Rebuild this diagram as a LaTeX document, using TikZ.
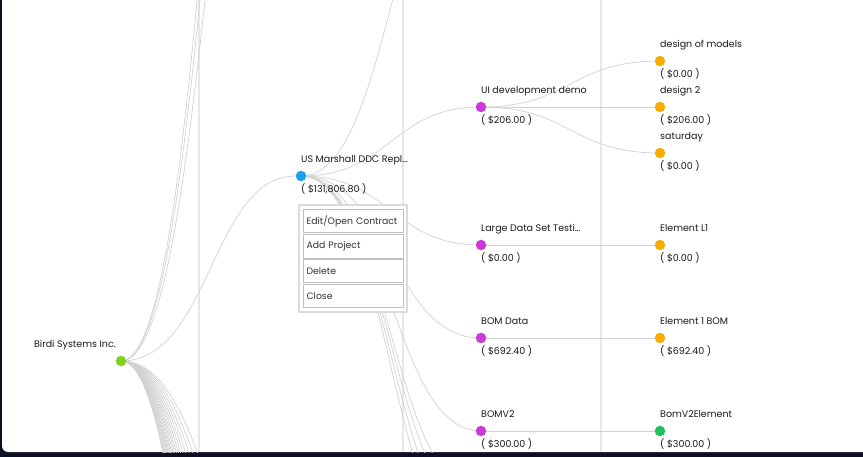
\documentclass[tikz,border=0pt]{standalone}
\usepackage{fontspec}
\setmainfont{Poppins}
\usepackage{tikz}
\usetikzlibrary{backgrounds}

\definecolor{framec}{HTML}{0D1024}
\definecolor{gridc}{HTML}{E8E8E8}
\definecolor{linkc}{HTML}{D2D2D2}
\definecolor{rootc}{HTML}{7ED321}
\definecolor{contc}{HTML}{1AA0F0}
\definecolor{projc}{HTML}{C93AD6}
\definecolor{elemc}{HTML}{F8AE00}
\definecolor{donec}{HTML}{20C060}

\tikzset{
  dot/.style={circle,inner sep=0pt,minimum size=10.5pt},
  lbl/.style={anchor=base west,inner sep=0pt,text=black!90,font=\fontsize{9.5}{11}\selectfont},
  link/.style={color=linkc,line width=0.7pt},
  menubtn/.style={draw=black!25,line width=1.1pt,fill=white,inner xsep=3pt,inner ysep=0pt,anchor=north west,text=black!80,font=\fontsize{9.3}{11}\selectfont,text width=94pt,align=left}
}

\begin{document}
\begin{tikzpicture}[line cap=round,line join=round,x=1pt,y=-1pt]
\useasboundingbox (0,0) rectangle (863,457);
% tree nodes
\node[dot,fill=rootc] (birdi) at (121,361) {};
\node[lbl,anchor=base east] (birdi-t) at (116,347.5) {Birdi Systems Inc.};
\node[dot,fill=contc] (usm) at (301,176) {};
\node[lbl] (usm-t) at (301,162.5) {US Marshall DDC Repl…};
\node[lbl] (usm-a) at (301,192.5) {( \$131,806.80 )};
\node[dot,fill=projc] (ui) at (481,107) {};
\node[lbl] (ui-t) at (481,93.5) {UI development demo};
\node[lbl] (ui-a) at (481,123.5) {( \$206.00 )};
\node[dot,fill=projc] (lds) at (481,245) {};
\node[lbl] (lds-t) at (481,231.5) {Large Data Set Testi…};
\node[lbl] (lds-a) at (481,261.5) {( \$0.00 )};
\node[dot,fill=projc] (bom) at (481,338) {};
\node[lbl] (bom-t) at (481,324.5) {BOM Data};
\node[lbl] (bom-a) at (481,354.5) {( \$692.40 )};
\node[dot,fill=projc] (bomv2) at (481,431) {};
\node[lbl] (bomv2-t) at (481,417.5) {BOMV2};
\node[lbl] (bomv2-a) at (481,447.5) {( \$300.00 )};
\node[dot,fill=elemc] (dom) at (660,61) {};
\node[lbl] (dom-t) at (660,47.5) {design of models};
\node[lbl] (dom-a) at (660,77.5) {( \$0.00 )};
\node[dot,fill=elemc] (des2) at (660,107) {};
\node[lbl] (des2-t) at (660,93.5) {design 2};
\node[lbl] (des2-a) at (660,123.5) {( \$206.00 )};
\node[dot,fill=elemc] (sat) at (660,153) {};
\node[lbl] (sat-t) at (660,139.5) {saturday};
\node[lbl] (sat-a) at (660,169.5) {( \$0.00 )};
\node[dot,fill=elemc] (el1) at (660,245) {};
\node[lbl] (el1-t) at (660,231.5) {Element L1};
\node[lbl] (el1-a) at (660,261.5) {( \$0.00 )};
\node[dot,fill=elemc] (el1bom) at (660,338) {};
\node[lbl] (el1bom-t) at (660,324.5) {Element 1 BOM};
\node[lbl] (el1bom-a) at (660,354.5) {( \$692.40 )};
\node[dot,fill=donec] (bv2el) at (660,431) {};
\node[lbl] (bv2el-t) at (660,417.5) {BomV2Element};
\node[lbl] (bv2el-a) at (660,447.5) {( \$300.00 )};
% siblings outside the view
\coordinate (top1) at (301,-470);
\coordinate (top2) at (301,-590);
\coordinate (top3) at (301,-670);
\coordinate (usm-up) at (481,-163);
\begin{scope}[on background layer]
\fill[framec] (0,0) rectangle (863,457);
\fill[white] (2,0) -- (2,446) arc[start angle=180,end angle=90,radius=6] -- (863,452) -- (863,0) -- cycle;
\foreach \x in {199,403,601}
\draw[gridc,line width=1.5pt] (\x,0) -- (\x,452);
\clip (2,0) rectangle (863,452);
\foreach \n in {top1,top2,top3,usm}
\draw[link] (birdi.center) .. controls +(90,0) and +(-90,0) .. (\n);
\foreach \y [count=\i] in {620,660,...,1380}
{\coordinate (low\i) at (301,\y);
\draw[link] (birdi.center) .. controls +(90,0) and +(-90,0) .. (low\i);}
\foreach \n in {usm-up,ui,lds,bom,bomv2}
\draw[link] (usm.center) .. controls +(90,0) and +(-90,0) .. (\n.center);
\foreach \y [count=\i] in {493,512,534,558}
{\coordinate (usm-low\i) at (481,\y);
\draw[link] (usm.center) .. controls +(90,0) and +(-90,0) .. (usm-low\i);}
\foreach \n in {dom,des2,sat}
\draw[link] (ui.center) .. controls +(89.5,0) and +(-89.5,0) .. (\n.center);
\draw[link] (lds.center) -- (el1.center);
\draw[link] (bom.center) -- (el1bom.center);
\draw[link] (bomv2.center) -- (bv2el.center);
\end{scope}
% context menu
\draw[black!14,line width=1.5pt,fill=white] (299,205) rectangle (407,312);
\node[menubtn,minimum height=23pt] (edit) at (303,209) {Edit/Open Contract};
\node[menubtn,minimum height=24pt] (addp) at (303,234) {Add Project};
\node[menubtn,minimum height=23pt] (del) at (303,259) {Delete};
\node[menubtn,minimum height=23pt] (close) at (303,284) {Close};
\end{tikzpicture}
\end{document}
